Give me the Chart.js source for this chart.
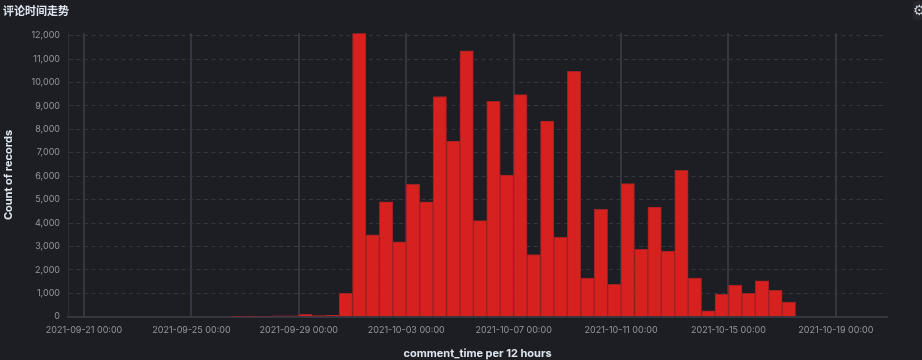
<!DOCTYPE html>
<html><head><meta charset="utf-8">
<style>
html,body{margin:0;padding:0;background:#1c1e23;width:922px;height:360px;overflow:hidden}
#wrap{position:relative;width:922px;height:360px}
#title{position:absolute;left:3px;top:3px;font:700 11px/16px Inter,"Noto Sans CJK SC",sans-serif;color:#dfe5ef}
#gear{position:absolute;left:913px;top:1px;width:12px;height:19px;font:14px/19px "DejaVu Sans",sans-serif;color:#c8ccd4;background:#25272d;border-radius:3px 0 0 3px}
</style></head><body>
<div id="wrap">
<canvas id="c" width="922" height="360"></canvas>
<div id="title">评论时间走势</div>
<div id="gear">⚙</div>
</div>
<script src="https://cdn.jsdelivr.net/npm/chart.js@4"></script>
<script>
// Bucket start times in hours after 2021-09-21 00:00; 12h buckets from 2021-09-26 12:00
const firstBucketHour = 132;
const bucketHours = 12;
const counts = [12,10,15,40,40,100,50,60,1000,
  12100,3500,4900,3200,5650,4900,9400,7500,11350,4100,9200,6050,9480,2650,8350,3400,10480,
  1650,4580,1380,5680,2880,4680,2800,6250,1650,250,950,1350,1000,1530,1130,620];
const xTickHours = [0,96,192,288,384,480,576,672];
const xTickLabels = ['2021-09-21 00:00','2021-09-25 00:00','2021-09-29 00:00','2021-10-03 00:00','2021-10-07 00:00','2021-10-11 00:00','2021-10-15 00:00','2021-10-19 00:00'];
const yTickValues = [0,1000,2000,3000,4000,5000,6000,7000,8000,9000,10000,11000,12000];
const seriesName = 'Count of records';
const xTitle = 'comment_time per 12 hours';

const points = counts.map((v,i)=>({x:firstBucketHour+i*bucketHours+bucketHours/2,y:v}));
Chart.defaults.font.family = 'Inter, sans-serif';
new Chart(document.getElementById('c'),{
  type:'bar',
  data:{datasets:[{label:seriesName,data:points,backgroundColor:'#d6211e',borderColor:'#9c2226',borderWidth:1,barPercentage:1,categoryPercentage:1}]},
  options:{
    responsive:false,animation:false,
    layout:{padding:{top:33.3,right:35,left:0,bottom:0}},
    plugins:{legend:{display:false},tooltip:{enabled:false}},
    scales:{
      x:{type:'linear',offset:false,min:-14.3,max:717.7,
        afterBuildTicks(s){s.ticks=xTickHours.map(v=>({value:v}));},
        afterFit(s){s.height=43.3;},
        grid:{offset:false,color:'#343640',lineWidth:2,drawTicks:false},
        border:{display:true,color:'#343640',width:2},
        ticks:{color:'#9498a1',font:{size:9},padding:8,maxRotation:0,autoSkip:false,
          callback(v){const i=xTickHours.indexOf(v);return i<0?'':xTickLabels[i];}},
        title:{display:true,text:xTitle,color:'#dfe5ef',font:{size:11,weight:'700'},padding:{top:0,bottom:0}}
      },
      y:{min:0,max:12100,
        afterBuildTicks(s){s.ticks=yTickValues.map(v=>({value:v}));},
        afterFit(s){s.width=68;},
        grid:{color:'#34363c',lineWidth:1,drawTicks:false},
        border:{display:true,color:'#2d2f36',width:1,dash:[4,3.5]},
        ticks:{color:'#9498a1',font:{size:9},padding:8,callback(v){return v.toLocaleString('en-US');}},
        title:{display:true,text:seriesName,color:'#dfe5ef',font:{size:11,weight:'700'},padding:{top:2,bottom:0}}
      }
    }
  }
});
</script>
</body></html>
